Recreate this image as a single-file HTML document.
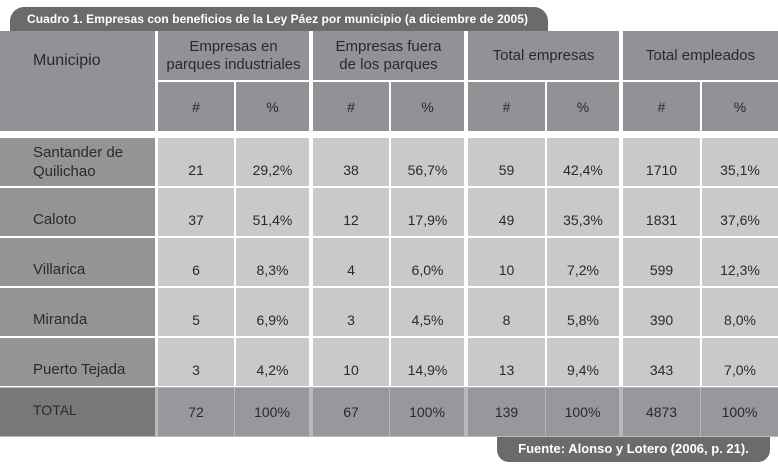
<!DOCTYPE html>
<html><head><meta charset="utf-8"><style>
body{margin:0;width:778px;height:464px;background:#fff;position:relative;overflow:hidden;font-family:"Liberation Sans",sans-serif;color:#2a2a2c}
.c{position:absolute;box-sizing:border-box;display:flex;justify-content:center;text-align:center}
#title{position:absolute;left:10px;top:7px;width:538px;height:24px;background:#6b6b6e;border-radius:14px 14px 0 0;color:#fff;font-weight:bold;font-size:12px;letter-spacing:0.05px;line-height:24px;padding-left:17px;box-sizing:border-box;white-space:nowrap;overflow:hidden}
#src{position:absolute;left:497px;top:437px;width:273px;height:25px;background:#6b6b6e;border-radius:0 0 12px 12px;color:#fff;font-weight:bold;font-size:13px;line-height:24px;text-align:center}
</style></head><body>
<div id="title">Cuadro 1. Empresas con beneficios de la Ley Páez por municipio (a diciembre de 2005)</div>
<div id="tbl"></div>
<div id="src">Fuente: Alonso y Lotero (2006, p. 21).</div>
<script>
const municipios=["Santander de<br>Quilichao","Caloto","Villarica","Miranda","Puerto Tejada"];
const parquesN=[21,37,6,5,3];
const parquesP=["29,2%","51,4%","8,3%","6,9%","4,2%"];
const fueraN=[38,12,4,3,10];
const fueraP=["56,7%","17,9%","6,0%","4,5%","14,9%"];
const totalN=[59,49,10,8,13];
const totalP=["42,4%","35,3%","7,2%","5,8%","9,4%"];
const emplN=[1710,1831,599,390,343];
const emplP=["35,1%","37,6%","12,3%","8,0%","7,0%"];
const totals=["72","100%","67","100%","139","100%","4873","100%"];
const groups=["Empresas en<br>parques industriales","Empresas fuera<br>de los parques","Total empresas","Total empleados"];
const t=document.getElementById('tbl');
const gx=[158,313,468,623],ix=[234,389,545,700],gend=[309,464,619,778];
function cell(x,y,w,h,bg,html,name,st){const d=document.createElement('div');d.className='c';


d.style.cssText=`left:${x}px;top:${y}px;width:${w}px;height:${h}px;background:${bg};`+(st||'');d.innerHTML=html;t.appendChild(d);return d;}
cell(0,31,155,100,'#929296','Municipio','header-municipio','font-size:16px;justify-content:flex-start;align-items:flex-start;padding:21px 0 0 33px;');
groups.forEach((g,i)=>{
 cell(gx[i],31,gend[i]-gx[i],49,'#929296',g,'header-group','font-size:15px;line-height:18px;align-items:center;');
 cell(gx[i],82,ix[i]-gx[i],49,'#929296','#','header-count','font-size:14px;align-items:center;');
 cell(ix[i]+2,82,gend[i]-ix[i]-2,49,'#929296','%','header-percent','font-size:14px;align-items:center;');
});
const rows=[parquesN,parquesP,fueraN,fueraP,totalN,totalP,emplN,emplP];
const ry=[138,188,238,288,338];
municipios.forEach((m,r)=>{
 const y=ry[r];
 cell(0,y,155,48,'#949497',m,'row-label','font-size:15px;line-height:19px;justify-content:flex-start;align-items:center;padding:'+(r==0?'0':'14px')+' 0 0 33px;text-align:left;');
 rows.forEach((arr,k)=>{const g=k>>1;const x=k%2?ix[g]+2:gx[g];const w=k%2?gend[g]-ix[g]-2:ix[g]-gx[g];
  cell(x,y,w,48,'#c8c9cb',String(arr[r]),'data-cell','font-size:14px;align-items:flex-end;padding-bottom:8px;');});
});
cell(0,387,778,50,'#b9b9bb','','total-row-bg');
cell(0,388,155,48,'#78787b','TOTAL','total-label','font-size:14px;justify-content:flex-start;align-items:center;padding:0 0 4px 33px;');
totals.forEach((v,k)=>{const g=k>>1;const x=k%2?ix[g]+1:gx[g];const w=k%2?gend[g]-ix[g]-1:ix[g]-gx[g];
 cell(x,388,w,48,'#98989c',v,'total-cell','font-size:14px;align-items:center;');});
</script>
</body></html>
